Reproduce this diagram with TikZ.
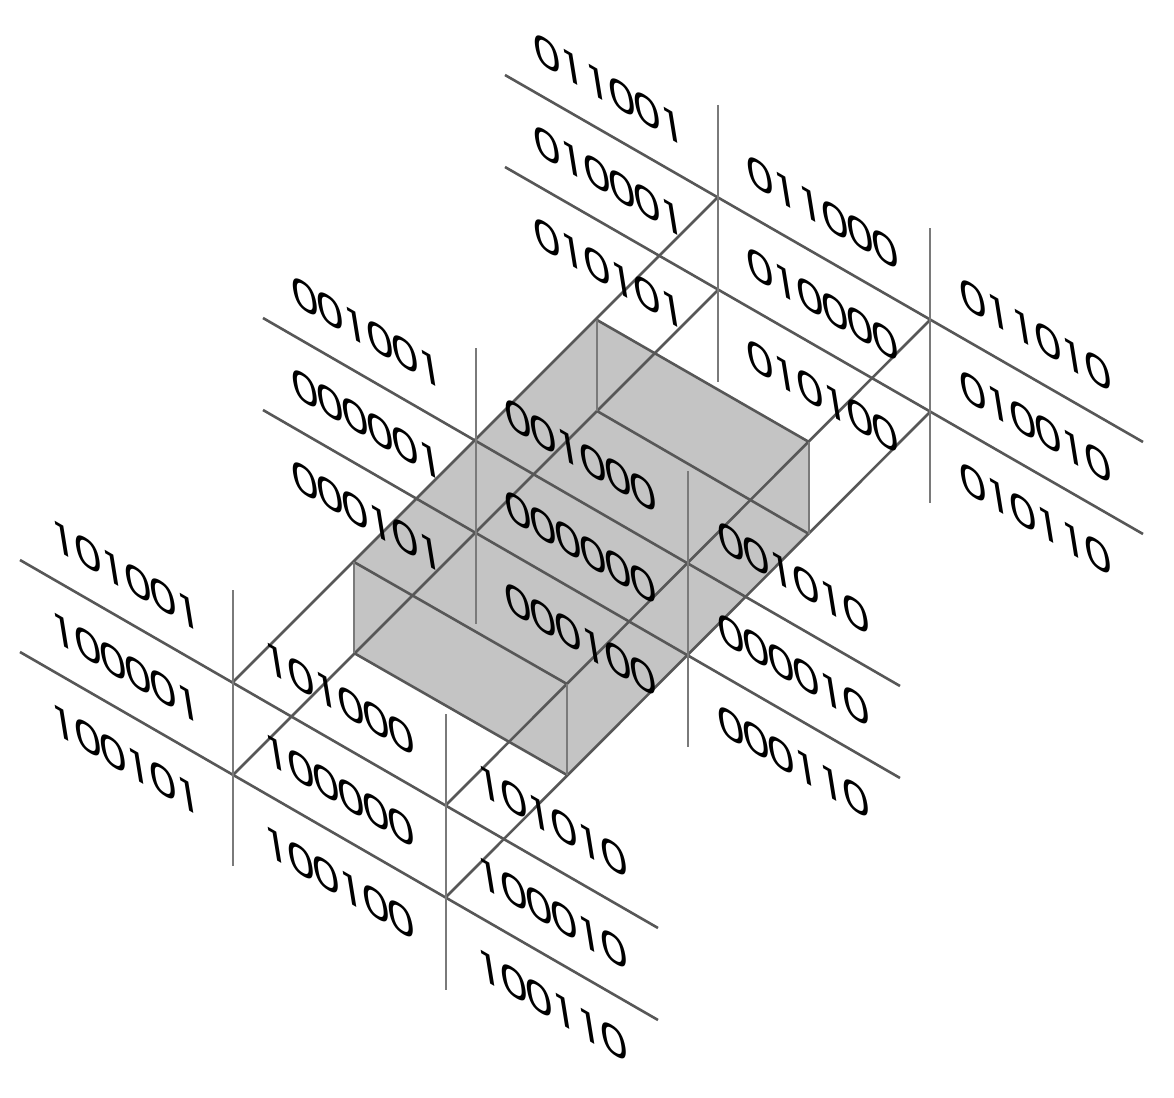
\documentclass[tikz,border=0pt]{standalone}
\usepackage{fontspec}
\setmainfont{Poppins}
\def\bitsA#1{\ifx#1\relax\else\makebox[24.1pt]{#1}\expandafter\bitsA\fi}
\tikzset{
  edge/.style={draw=black!66,line width=2.6pt},
  post/.style={draw=black!52,line width=2.8pt},
  shade/.style={fill=black!23,draw=none},
  bit/.style={inner sep=0pt,anchor=base west,font=\fontsize{44}{44}\selectfont,cm={1.04,-.6,-.16,.985,(0,0)},text=black},
}
\begin{document}
\begin{tikzpicture}[x=1pt,y=-1pt]
\useasboundingbox (0,0) rectangle (1174,1097);
% box corners
\coordinate (bA) at (597,320); \coordinate (bB) at (809,442); \coordinate (bC) at (809,534);
\coordinate (bD) at (567,775); \coordinate (bE) at (354,653); \coordinate (bF) at (354,562);
\coordinate (bG) at (597,411); \coordinate (bH) at (567,684);
\path[shade] (bA)--(bB)--(bC)--(bD)--(bE)--(bF)--cycle;
% long slanted lines
\coordinate (a1) at (505,75);  \coordinate (a2) at (1143,442);
\coordinate (b1) at (505,167); \coordinate (b2) at (1143,534);
\coordinate (c1) at (263,318); \coordinate (c2) at (900,686);
\coordinate (d1) at (263,410); \coordinate (d2) at (900,778);
\coordinate (e1) at (20,560);  \coordinate (e2) at (658,928);
\coordinate (f1) at (20,652);  \coordinate (f2) at (658,1020);
\draw[edge] (a1)--(a2) (b1)--(b2) (c1)--(c2) (d1)--(d2) (e1)--(e2) (f1)--(f2);
% rising lines
\coordinate (g1) at (233,682); \coordinate (g2) at (718,197);
\coordinate (h1) at (233,775); \coordinate (h2) at (718,290);
\coordinate (i1) at (446,805); \coordinate (i2) at (930,320);
\coordinate (j1) at (446,897); \coordinate (j2) at (930,412);
\draw[edge] (g1)--(g2) (h1)--(h2) (i1)--(i2) (j1)--(j2);
% box edges
\draw[edge] (bA)--(bB) (bG)--(bC) (bF)--(bH) (bE)--(bD);
\draw[post] (bA)--(bG) (bF)--(bE) (bH)--(bD) (bB)--(bC);
% vertical lines
\coordinate (v1a) at (718,105); \coordinate (v1b) at (718,382);
\coordinate (v2a) at (930,228); \coordinate (v2b) at (930,503);
\coordinate (v3a) at (476,348); \coordinate (v3b) at (476,624);
\coordinate (v4a) at (688,471); \coordinate (v4b) at (688,747);
\coordinate (v5a) at (233,590); \coordinate (v5b) at (233,866);
\coordinate (v6a) at (446,714); \coordinate (v6b) at (446,990);
\draw[post] (v1a)--(v1b) (v2a)--(v2b) (v3a)--(v3b) (v4a)--(v4b) (v5a)--(v5b) (v6a)--(v6b);
% labels
\foreach \k/\i/\j/\t in {
 0/0/0/011001,0/0/1/010001,0/0/2/010101,
 0/1/0/011000,0/1/1/010000,0/1/2/010100,
 0/2/0/011010,0/2/1/010010,0/2/2/010110,
 1/0/0/001001,1/0/1/000001,1/0/2/000101,
 1/1/0/001000,1/1/1/000000,1/1/2/000100,
 1/2/0/001010,1/2/1/000010,1/2/2/000110,
 2/0/0/101001,2/0/1/100001,2/0/2/100101,
 2/1/0/101000,2/1/1/100000,2/1/2/100100,
 2/2/0/101010,2/2/1/100010,2/2/2/100110}{
  \node[bit] (t\t) at ({537+213*\i-242*\k},{62+122.7*\i+92*\j+243*\k}) {\expandafter\bitsA\t\relax};
}
\end{tikzpicture}
\end{document}
